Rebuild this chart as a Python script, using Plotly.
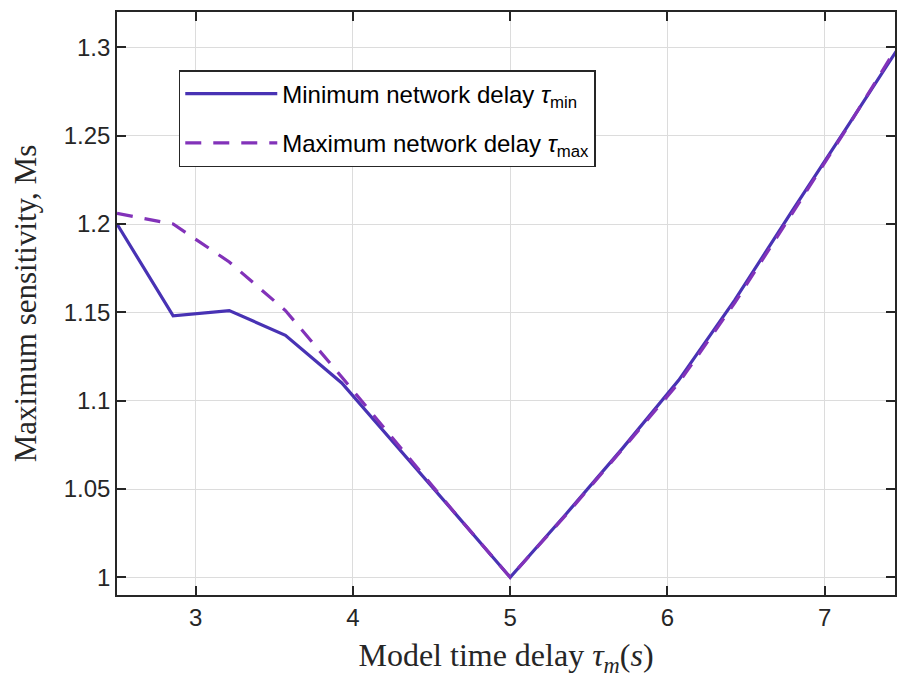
import plotly.graph_objects as go

tau_m = [2.5, 2.857, 3.214, 3.571, 3.929, 4.286, 4.643, 5.0, 5.357, 5.714, 6.071, 6.429, 6.786, 7.143, 7.5]
ms_min = [1.200, 1.148, 1.151, 1.137, 1.110, 1.0737, 1.0369, 1.000, 1.036, 1.073, 1.1115, 1.157, 1.2065, 1.255, 1.304]
ms_max = [1.206, 1.200, 1.1785, 1.151, 1.1134, 1.075, 1.037, 1.000, 1.0355, 1.0725, 1.110, 1.1555, 1.205, 1.2545, 1.306]

x_ticks = [3, 4, 5, 6, 7]
y_ticks = [1.0, 1.05, 1.1, 1.15, 1.2, 1.25, 1.3]
y_tick_labels = ["1", "1.05", "1.1", "1.15", "1.2", "1.25", "1.3"]

fig = go.Figure()
fig.add_trace(go.Scatter(
    x=tau_m, y=ms_min, mode="lines", legendgroup="a",
    name="Minimum network delay <i>τ</i><sub>min</sub>",
    line=dict(color="rgb(72,50,180)", width=3.2)))
fig.add_trace(go.Scatter(
    x=tau_m, y=ms_max, mode="lines", legendgroup="b",
    name="Maximum network delay <i>τ</i><sub>max</sub>",
    line=dict(color="rgb(130,50,185)", width=3.2, dash="16px,12px")))

axcol = "rgb(38,38,38)"
fig.update_layout(
    width=898, height=678,
    margin=dict(l=117, r=1, t=12, b=83),
    paper_bgcolor="white", plot_bgcolor="white",
    font=dict(family="Liberation Sans, Arial", color=axcol),
    legend=dict(
        x=0.0794, y=0.9005, xanchor="left", yanchor="top",
        bgcolor="white", bordercolor=axcol, borderwidth=1.5,
        font=dict(family="Liberation Sans, Arial", size=24, color="black"),
        tracegroupgap=15, itemwidth=92,
    ),
    xaxis=dict(
        range=[2.5, 7.447], tickvals=x_ticks, ticktext=[str(v) for v in x_ticks],
        showgrid=True, gridcolor="rgb(220,220,220)", gridwidth=1.2,
        showline=True, linecolor=axcol, linewidth=1.6, mirror="ticks",
        ticks="inside", ticklen=9, tickwidth=1.6, tickcolor=axcol,
        tickfont=dict(size=24, color=axcol), zeroline=False,
        title=dict(text="Model time delay <i>τ<sub>m</sub></i>(<i>s</i>)",
                   font=dict(family="Liberation Serif, Times New Roman", size=32, color=axcol),
                   standoff=16),
    ),
    yaxis=dict(
        range=[0.99, 1.32], tickvals=y_ticks, ticktext=y_tick_labels,
        showgrid=True, gridcolor="rgb(220,220,220)", gridwidth=1.2,
        showline=True, linecolor=axcol, linewidth=1.6, mirror="ticks",
        ticks="inside", ticklen=9, tickwidth=1.6, tickcolor=axcol,
        tickfont=dict(size=24, color=axcol), zeroline=False,
        title=dict(text="Maximum sensitivity, Ms",
                   font=dict(family="Liberation Serif, Times New Roman", size=31, color=axcol),
                   standoff=18),
    ),
)

fig.write_html("out.html")
